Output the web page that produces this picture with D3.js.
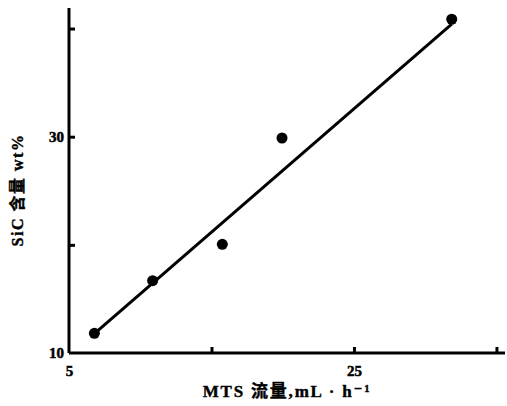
<!DOCTYPE html>
<html>
<head>
<meta charset="utf-8">
<script src="https://cdn.jsdelivr.net/npm/d3@7"></script>
<style>
  html, body { margin: 0; padding: 0; background: #fff; }
  svg { display: block; }
  text { font-family: "Liberation Serif", "DejaVu Serif", "Noto Sans CJK SC", serif; font-weight: bold; fill: #000; }
</style>
</head>
<body>
<svg id="chart" width="507" height="406"></svg>
<script>
// MTS flow rate (mL·h⁻¹) vs SiC content (wt%)
const flowRate   = [6.78, 10.87, 15.76, 19.95, 31.86];
const sicContent = [11.82, 16.69, 20.05, 29.88, 40.86];

// linear fit drawn through the measurements
const fitX = [6.78, 31.86];
const fitY = [11.8, 40.4];

const xTicks = [5, 15, 25, 35];
const xTickLabels = ["5", "", "25", ""];
const yTicks = [10, 20, 30, 40];
const yTickLabels = ["10", "", "30", ""];

const xDomain = [5, 35.6];
const yDomain = [10, 41.9];

const svg = d3.select("#chart");

const x = d3.scaleLinear().domain(xDomain).range([69, 505]);
const y = d3.scaleLinear().domain(yDomain).range([353, 8]);

// axis lines
const axisG = svg.append("g").attr("stroke", "#000").attr("stroke-width", 3).attr("fill", "none");
axisG.append("line")
  .attr("x1", x(xDomain[0])).attr("x2", x(xDomain[1]))
  .attr("y1", y(yDomain[0])).attr("y2", y(yDomain[0]));
axisG.append("line")
  .attr("x1", x(xDomain[0])).attr("x2", x(xDomain[0]))
  .attr("y1", y(yDomain[0])).attr("y2", y(yDomain[1]));

// inward ticks
const xAxis = d3.axisBottom(x).tickValues(xTicks).tickSize(0).tickSizeInner(-6).tickPadding(10)
  .tickFormat((d, i) => xTickLabels[i]);
const yAxis = d3.axisLeft(y).tickValues(yTicks).tickSize(0).tickSizeInner(-6).tickPadding(5)
  .tickFormat((d, i) => yTickLabels[i]);

const gx = svg.append("g").attr("transform", `translate(0,${y(yDomain[0])})`).call(xAxis);
const gy = svg.append("g").attr("transform", `translate(${x(xDomain[0])},0)`).call(yAxis);
[gx, gy].forEach(g => {
  g.select(".domain").remove();
  g.selectAll(".tick line").attr("stroke", "#000").attr("stroke-width", 3);
  g.selectAll(".tick text").attr("font-size", 15).attr("fill", "#000")
    .attr("stroke", "#000").attr("stroke-width", 0.5);
});
gx.selectAll(".tick text").attr("dy", "0.85em");
gx.selectAll(".tick").filter(d => d === xDomain[0]).select("line").remove();
gy.selectAll(".tick").filter(d => d === yDomain[0]).select("line").remove();

// fitted line
svg.append("line")
  .attr("x1", x(fitX[0])).attr("y1", y(fitY[0]))
  .attr("x2", x(fitX[1])).attr("y2", y(fitY[1]))
  .attr("stroke", "#000").attr("stroke-width", 3);

// data points
svg.append("g").selectAll("circle")
  .data(flowRate.map((v, i) => [v, sicContent[i]]))
  .join("circle")
  .attr("cx", d => x(d[0]))
  .attr("cy", d => y(d[1]))
  .attr("r", 5.5)
  .attr("fill", "#000");

// axis titles
svg.append("text")
  .attr("x", 287).attr("y", 397)
  .attr("text-anchor", "middle")
  .attr("font-size", 17)
  .attr("letter-spacing", 1.8)
  .attr("stroke", "#000").attr("stroke-width", 0.4)
  .text("MTS 流量,mL · h⁻¹");

svg.append("text")
  .attr("transform", "translate(23,190) rotate(-90)")
  .attr("text-anchor", "middle")
  .attr("font-size", 16)
  .attr("letter-spacing", 1.5)
  .attr("stroke", "#000").attr("stroke-width", 0.4)
  .text("SiC 含量 wt%");
</script>
</body>
</html>
